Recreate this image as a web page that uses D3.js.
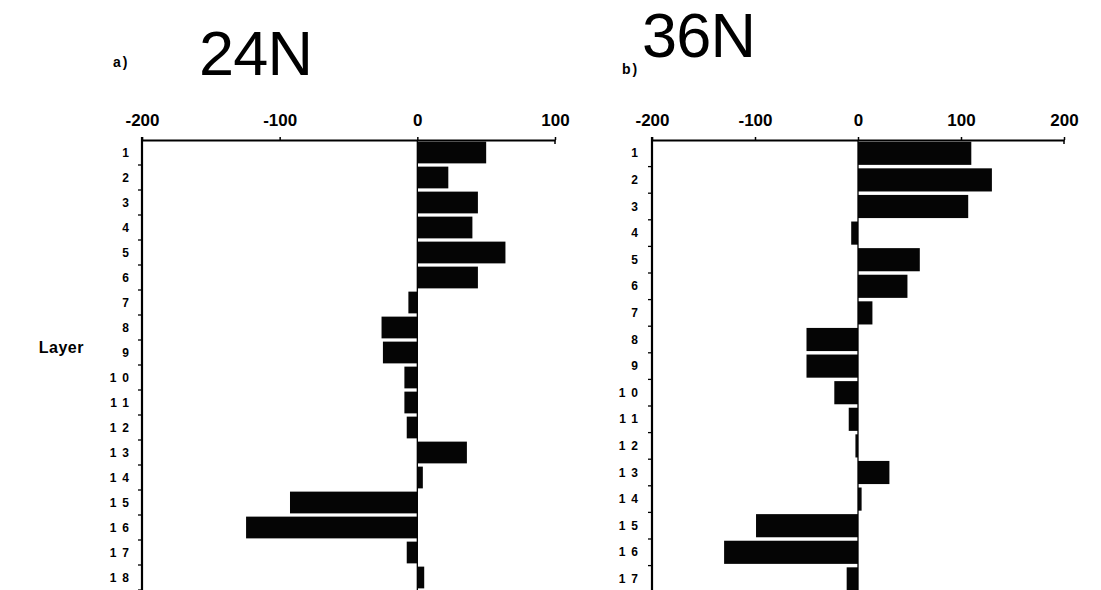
<!DOCTYPE html>
<html>
<head>
<meta charset="utf-8">
<script src="https://cdn.jsdelivr.net/npm/d3@7"></script>
<style>
	body { margin: 0; background: #fff; }
	svg { display: block; }
	text { font-family: "Liberation Sans", Arial, sans-serif; fill: #000; }
</style>
</head>
<body>
<div id="chart"></div>
<script>
// layer numbers and transport values
const layersA = d3.range(1, 19);
const valuesA = [50, 22.5, 44, 40, 64, 44, -6.5, -26, -25, -9.4, -9.4, -7.7, 36, 4, -92.5, -124.4, -7.7, 5];
const ticksA = [-200, -100, 0, 100];

const layersB = d3.range(1, 18);
const valuesB = [110, 130, 107, -6.6, 60, 48, 14, -50, -50, -23, -9, -2.5, 30.5, 3.5, -99, -130, -11];
const ticksB = [-200, -100, 0, 100, 200];

const W = 1101, H = 590;

let svg = d3.select("#chart")
	.append("svg")
	.attr("width", W)
	.attr("height", H);

function drawPanel(cfg) {
	let g = svg.append("g");

	let x = d3.scaleLinear()
		.domain(cfg.domain)
		.range(cfg.xRange);

	let y = d3.scaleBand()
		.domain(cfg.layers)
		.range([cfg.top, cfg.top + cfg.step * cfg.layers.length])
		.paddingInner(0.13)
		.paddingOuter(0.065);

	// bars
	g.selectAll("rect")
		.data(cfg.values)
		.enter().append("rect")
		.attr("x", (d) => { return x(Math.min(0, d)); })
		.attr("y", (d, i) => { return y(cfg.layers[i]); })
		.attr("width", (d) => { return Math.abs(x(d) - x(0)); })
		.attr("height", y.bandwidth())
		.attr("fill", "#050505");

	// zero line
	g.append("line")
		.attr("x1", x(0)).attr("x2", x(0))
		.attr("y1", cfg.top).attr("y2", H)
		.attr("stroke", "#000")
		.attr("stroke-width", 1.3);

	// top axis
	let top = g.append("g")
		.attr("transform", "translate(0," + cfg.top + ")")
		.call(d3.axisTop(x).tickValues(cfg.ticks).tickSize(3).tickSizeOuter(0).tickFormat(d3.format("d")));

	top.select(".domain").attr("stroke", "#000").attr("stroke-width", 2.2);
	top.selectAll(".tick line").attr("stroke", "#000").attr("stroke-width", 1.5);
	top.selectAll(".tick text")
		.attr("y", -14)
		.style("font-size", "17px")
		.style("font-weight", "bold")
		.text((d) => { return d < 0 ? "-" + Math.abs(d) : d; });

	// downward tick at the right end
	g.append("line")
		.attr("x1", cfg.xRange[1]).attr("x2", cfg.xRange[1])
		.attr("y1", cfg.top).attr("y2", cfg.top + 4)
		.attr("stroke", "#000")
		.attr("stroke-width", 1.5);

	// left axis line with ticks at the layer boundaries
	g.append("line")
		.attr("x1", cfg.xRange[0]).attr("x2", cfg.xRange[0])
		.attr("y1", cfg.top - 3).attr("y2", H)
		.attr("stroke", "#000")
		.attr("stroke-width", 2.2);

	g.selectAll(".ltick")
		.data(cfg.layers)
		.enter().append("line")
		.attr("class", "ltick")
		.attr("x1", cfg.xRange[0] - 4).attr("x2", cfg.xRange[0])
		.attr("y1", (d) => { return cfg.top + cfg.step * d; })
		.attr("y2", (d) => { return cfg.top + cfg.step * d; })
		.attr("stroke", "#000")
		.attr("stroke-width", 1.3);

	g.selectAll(".llabel")
		.data(cfg.layers)
		.enter().append("text")
		.attr("class", "llabel")
		.attr("x", cfg.xRange[0] - cfg.labelGap)
		.attr("y", (d) => { return y(d) + y.bandwidth() / 2 + 4; })
		.attr("text-anchor", "end")
		.style("font-size", "12px")
		.style("font-weight", "bold")
		.style("letter-spacing", "6px")
		.text((d) => { return String(d); });

	// panel titles
	g.append("text")
		.attr("x", cfg.tagX).attr("y", cfg.tagY)
		.style("font-size", "14px")
		.style("font-weight", "bold")
		.style("letter-spacing", "2px")
		.text(cfg.tag);

	g.append("text")
		.attr("x", cfg.titleX).attr("y", cfg.titleY)
		.style("font-size", "63px")
		.attr("textLength", 114)
		.text(cfg.title);
}

drawPanel({
	layers: layersA, values: valuesA, ticks: ticksA,
	domain: [-200, 100], xRange: [142, 555],
	top: 140, step: 25, labelGap: 7,
	tag: "a)", tagX: 113, tagY: 67,
	title: "24N", titleX: 199, titleY: 75
});

drawPanel({
	layers: layersB, values: valuesB, ticks: ticksB,
	domain: [-200, 200], xRange: [652, 1064],
	top: 140, step: 26.6, labelGap: 8,
	tag: "b)", tagX: 622, tagY: 74,
	title: "36N", titleX: 642, titleY: 57
});

svg.append("text")
	.attr("x", 84)
	.attr("y", 353)
	.attr("text-anchor", "end")
	.style("font-size", "16px")
	.style("font-weight", "bold")
	.style("letter-spacing", "0.5px")
	.text("Layer");
</script>
</body>
</html>
